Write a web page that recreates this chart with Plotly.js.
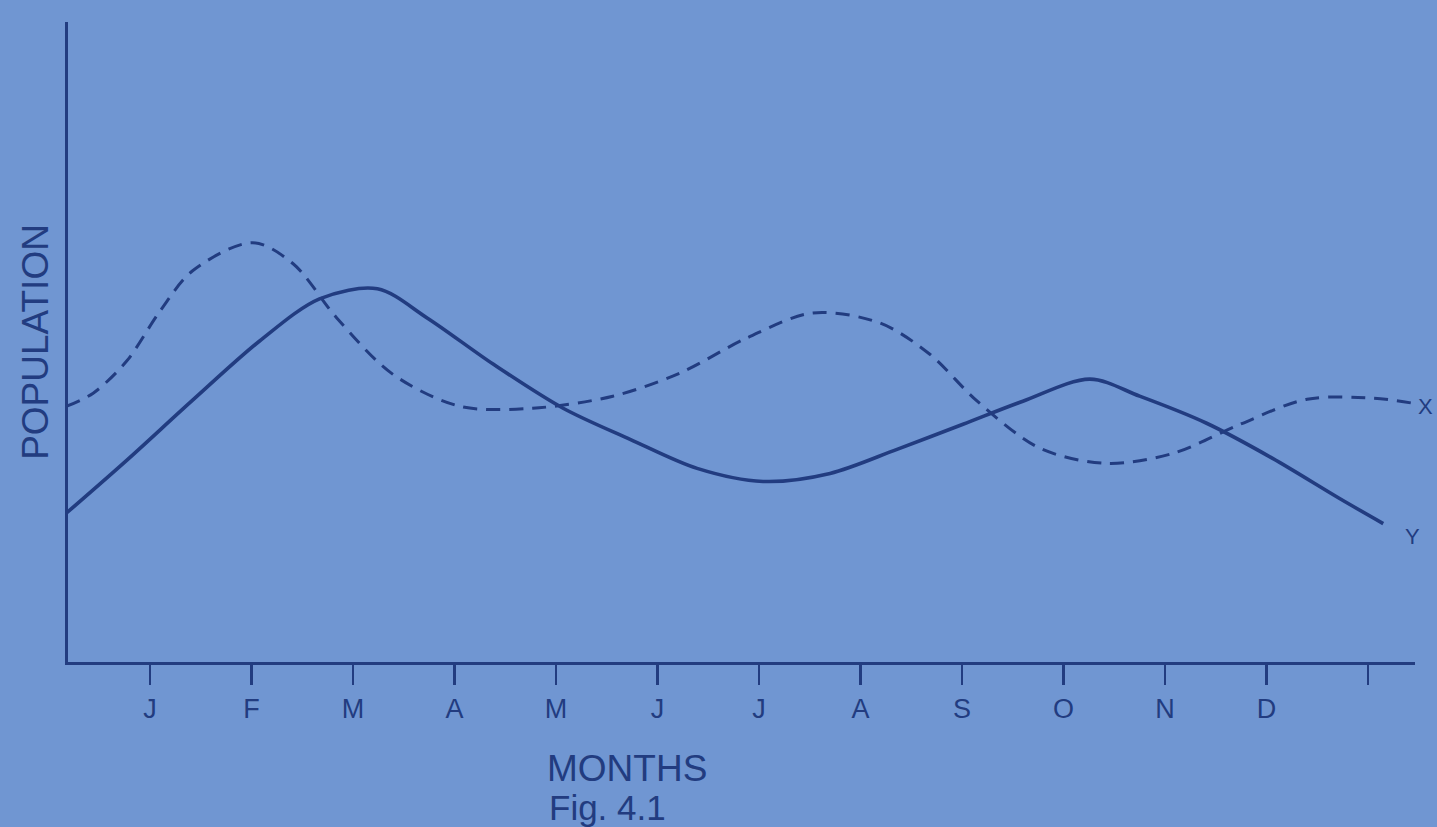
<!DOCTYPE html>
<html>
<head>
<meta charset="utf-8">
<script src="https://cdn.plot.ly/plotly-3.0.1.min.js"></script>
<style>
html,body{margin:0;padding:0;background:rgb(112,150,210);}
#chart{width:1437px;height:827px;}
</style>
</head>
<body>
<div id="chart"></div>
<script>
// Month tick positions and labels (J..D, plus one unlabelled end tick)
const monthTicks = [1,2,3,4,5,6,7,8,9,10,11,12,13];
const monthLabels = ["J","F","M","A","M","J","J","A","S","O","N","D",""];

// Population X (dashed curve): position in months, population (arbitrary units)
const xSeriesMonths = [0.18,0.44,0.77,1.10,1.42,2.01,2.41,2.84,3.39,4.05,4.77,5.56,6.22,6.88,7.53,8.19,8.68,9.15,9.77,10.43,11.08,11.74,12.40,13.05,13.44];
const xSeriesPop    = [25.5,26.8,30.0,35.0,39.0,41.8,39.7,34.3,28.7,25.5,25.3,26.5,28.8,32.3,34.8,33.8,30.7,26.0,21.3,19.8,20.8,23.7,26.2,26.3,25.8];

// Population Y (solid curve)
const ySeriesMonths = [0.16,0.77,1.42,2.08,2.67,3.24,3.73,4.38,5.07,5.73,6.39,7.04,7.70,8.36,9.01,9.60,10.26,10.75,11.41,12.06,12.72,13.15];
const ySeriesPop    = [14.7,20.1,26.1,32.0,36.2,37.2,34.3,29.7,25.3,22.2,19.3,18.0,18.8,21.2,23.7,26.0,28.2,26.5,23.8,20.3,16.3,13.8];

const seriesNames = ["X","Y"];

const ink = "rgb(34,60,128)";
const bg = "rgb(112,150,210)";

const traces = [
  {x: xSeriesMonths, y: xSeriesPop, name: seriesNames[0], mode: "lines", type: "scatter",
   line: {color: ink, width: 3, dash: "14px,9px", shape: "spline", smoothing: 0.9}, cliponaxis: false, hoverinfo: "skip"},
  {x: ySeriesMonths, y: ySeriesPop, name: seriesNames[1], mode: "lines", type: "scatter",
   line: {color: ink, width: 3.6, shape: "spline", smoothing: 0.9}, cliponaxis: false, hoverinfo: "skip"}
];

const font = "Liberation Sans, Arial, sans-serif";

const layout = {
  width: 1437, height: 827,
  paper_bgcolor: bg, plot_bgcolor: bg,
  margin: {l: 68, r: 22, t: 22, b: 165},
  showlegend: false,
  font: {family: font, color: ink},
  xaxis: {
    range: [0.192, 13.463],
    tickmode: "array", tickvals: monthTicks, ticktext: monthLabels,
    ticks: "outside", ticklen: 20, tickwidth: 2.8, tickcolor: ink,
    tickfont: {family: font, size: 27, color: ink},
    showline: true, linecolor: ink, linewidth: 3.2,
    showgrid: false, zeroline: false, fixedrange: true
  },
  yaxis: {
    range: [0, 63.8],
    showticklabels: false, ticks: "",
    showline: true, linecolor: ink, linewidth: 2.8,
    showgrid: false, zeroline: false, fixedrange: true,
    title: {text: "POPULATION", font: {family: font, size: 37, color: ink}, standoff: 6}
  },
  annotations: [
    {xref: "paper", yref: "paper", x: 1.0075, y: 0.40, text: seriesNames[0], showarrow: false,
     xanchor: "center", yanchor: "middle", font: {family: font, size: 22, color: ink}},
    {xref: "paper", yref: "paper", x: 0.998, y: 0.196, text: seriesNames[1], showarrow: false,
     xanchor: "center", yanchor: "middle", font: {family: font, size: 22, color: ink}},
    {xref: "paper", yref: "paper", x: (627-68)/1347, y: -(768-662)/640, text: "MONTHS",
     showarrow: false, xanchor: "center", yanchor: "middle",
     font: {family: font, size: 37, color: ink}},
    {xref: "paper", yref: "paper", x: (607-68)/1347, y: -(807-662)/640, text: "Fig. 4.1",
     showarrow: false, xanchor: "center", yanchor: "middle",
     font: {family: font, size: 35, color: ink}}
  ]
};

Plotly.newPlot("chart", traces, layout, {displayModeBar: false, staticPlot: true});
</script>
</body>
</html>
